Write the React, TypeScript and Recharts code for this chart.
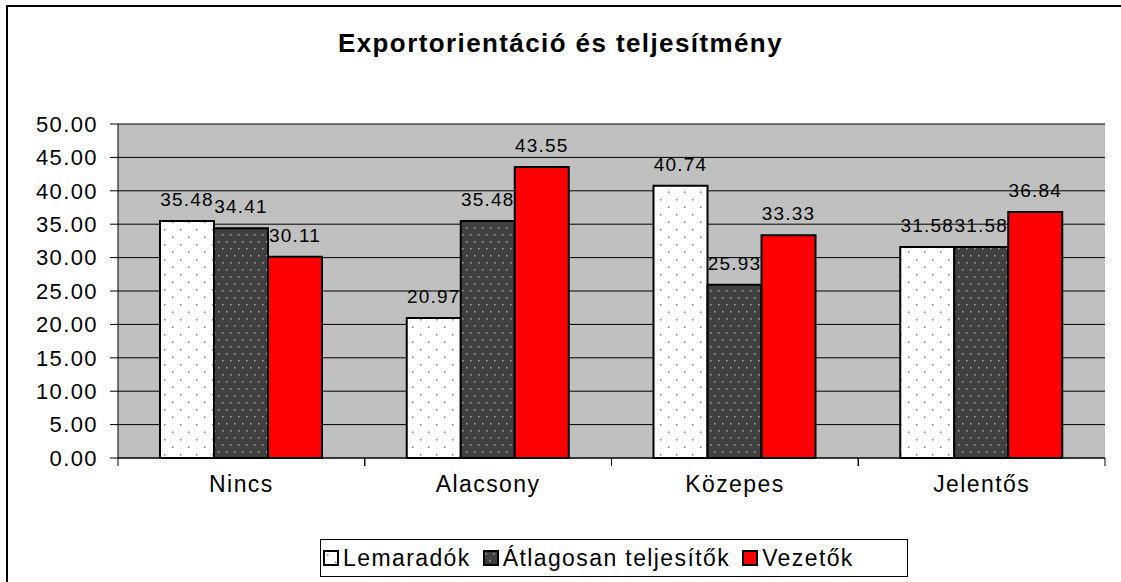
import React from "react";
import {
  BarChart,
  Bar,
  XAxis,
  YAxis,
  CartesianGrid,
  Legend,
  LabelList,
} from "recharts";

const categories = ["Nincs", "Alacsony", "Közepes", "Jelentős"];
const lemaradok = [35.48, 20.97, 40.74, 31.58];
const atlagosan = [34.41, 35.48, 25.93, 31.58];
const vezetok = [30.11, 43.55, 33.33, 36.84];
const yTicks = [0, 5, 10, 15, 20, 25, 30, 35, 40, 45, 50];

const series = [
  { key: "lemaradok", name: "Lemaradók", fill: "url(#dotsWhite)" },
  { key: "atlagosan", name: "Átlagosan teljesítők", fill: "url(#dotsDark)" },
  { key: "vezetok", name: "Vezetők", fill: "#FF0000" },
];

const data = categories.map((c, i) => ({
  category: c,
  lemaradok: lemaradok[i],
  atlagosan: atlagosan[i],
  vezetok: vezetok[i],
}));

const FONT = '"Liberation Sans", Arial, sans-serif';

// x axis label + tick marks on the category boundaries (Excel style)
const CategoryTick = (props: any) => {
  const { x, y, payload } = props;
  const half = payload && payload.offset ? payload.offset : 123.4;
  const axisY = y - 8;
  return (
    <g>
      <line x1={x - half} y1={axisY} x2={x - half} y2={axisY + 8} stroke="#000" />
      <line x1={x + half} y1={axisY} x2={x + half} y2={axisY + 8} stroke="#000" />
      <text
        x={x}
        y={axisY + 34}
        textAnchor="middle"
        fontSize={23}
        letterSpacing={1.4}
        fontFamily={FONT}
        fill="#000"
      >
        {payload.value}
      </text>
    </g>
  );
};

const LegendBox = () => (
  <div
    style={{
      border: "1px solid #000",
      height: 38,
      width: 588,
      display: "flex",
      alignItems: "center",
      fontFamily: FONT,
      fontSize: 23,
      letterSpacing: 1.4,
      color: "#000",
      background: "#fff",
      boxSizing: "border-box",
      paddingLeft: 2,
    }}
  >
    {series.map((s) => (
      <div key={s.key} style={{ display: "flex", alignItems: "center", marginRight: 12 }}>
        <svg width={16} height={16} style={{ marginRight: 4 }}>
          <rect x={1} y={1} width={14} height={14} fill={s.fill} stroke="#000" strokeWidth={2} />
        </svg>
        <span>{s.name}</span>
      </div>
    ))}
  </div>
);

export default function App() {
  return (
    <div
      style={{
        position: "absolute",
        left: 0,
        top: 0,
        width: 1121,
        height: 582,
        overflow: "hidden",
        background: "#fff",
        fontFamily: FONT,
      }}
    >
      <svg width={0} height={0} style={{ position: "absolute" }}>
        <defs>
          <pattern id="dotsWhite" width={16} height={15} patternUnits="userSpaceOnUse">
            <rect width={16} height={15} fill="#fff" />
            <rect x={4} y={4} width={1.5} height={1.5} fill="#808080" />
            <rect x={12} y={11.5} width={1.5} height={1.5} fill="#808080" />
          </pattern>
          <pattern id="dotsDark" width={8} height={14} patternUnits="userSpaceOnUse">
            <rect width={8} height={14} fill="#404040" />
            <rect x={2} y={3} width={1.5} height={1.5} fill="#a8a8a8" />
            <rect x={6} y={10} width={1.5} height={1.5} fill="#a8a8a8" />
          </pattern>
        </defs>
      </svg>
      <div
        style={{
          position: "absolute",
          left: 6,
          top: 5,
          width: 1300,
          height: 800,
          border: "2px solid #000",
          boxSizing: "border-box",
        }}
      />
      <div
        style={{
          position: "absolute",
          left: 0,
          width: 1121,
          top: 28,
          textAlign: "center",
          fontWeight: "bold",
          fontSize: 26,
          letterSpacing: 1.4,
          color: "#000",
        }}
      >
        Exportorientáció és teljesítmény
      </div>
      <div style={{ position: "absolute", left: 0, top: 0 }}>
        <BarChart
          width={1121}
          height={582}
          data={data}
          margin={{ top: 124, right: 16, bottom: 0, left: 0 }}
          barGap={0}
          barSize={54}
        >
          <CartesianGrid
            vertical={false}
            horizontal
            fill="#C0C0C0"
            stroke="#000"
            strokeOpacity={1}
          />
          <XAxis
            dataKey="category"
            height={86}
            axisLine={{ stroke: "#000", strokeWidth: 1 }}
            tickLine={false}
            tick={<CategoryTick />}
            interval={0}
          />
          <YAxis
            width={118}
            domain={[0, 50]}
            ticks={yTicks}
            interval={0}
            tickFormatter={(v: number) => v.toFixed(2)}
            axisLine={{ stroke: "#000" }}
            tickLine={{ stroke: "#000" }}
            tickSize={8}
            tickMargin={12}
            tick={{ fill: "#000", fontSize: 22, fontFamily: FONT, letterSpacing: 1.4 }}
          />
          <YAxis
            yAxisId="frame"
            orientation="right"
            width={0}
            domain={[0, 50]}
            tick={false}
            tickLine={false}
            axisLine={{ stroke: "#808080", strokeWidth: 2 }}
          />
          <Legend
            content={<LegendBox />}
            wrapperStyle={{ position: "absolute", left: 320, top: 539, width: 588, height: 38 }}
          />
          {series.map((s) => (
            <Bar
              key={s.key}
              dataKey={s.key}
              name={s.name}
              fill={s.fill}
              stroke="#000"
              strokeWidth={2}
              isAnimationActive={false}
            >
              <LabelList
                dataKey={s.key}
                position="top"
                offset={15}
                formatter={(v: any) => Number(v).toFixed(2)}
                style={{ fill: "#000", fontSize: 19, fontFamily: FONT, letterSpacing: 1.2 }}
              />
            </Bar>
          ))}
        </BarChart>
      </div>
    </div>
  );
}
